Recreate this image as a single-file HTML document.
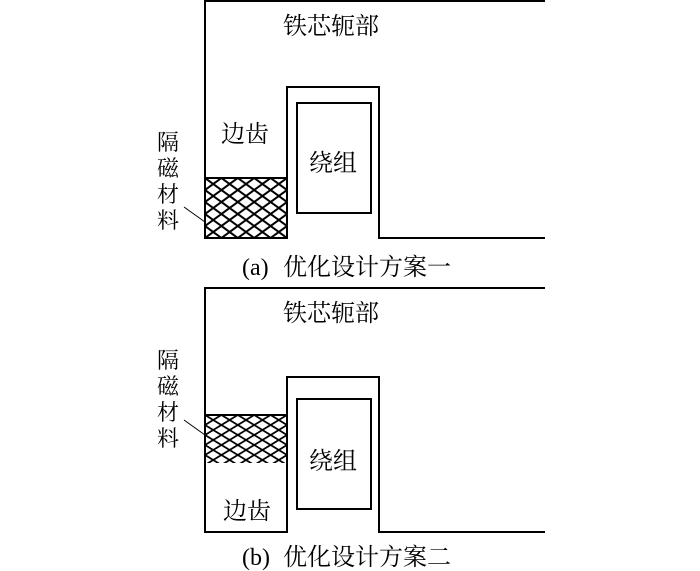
<!DOCTYPE html>
<html><head><meta charset="utf-8"><style>
html,body{margin:0;padding:0;background:#fff;}
svg{display:block;}
text{font-family:"Liberation Serif","Noto Serif CJK SC","Noto Sans CJK SC",serif;fill:#000;}
</style></head><body>
<svg width="700" height="571" viewBox="0 0 700 571" xmlns="http://www.w3.org/2000/svg">
<defs>
<pattern id="ha" x="205" y="178" width="16.4" height="12" patternUnits="userSpaceOnUse">
<path d="M0,0 L16.4,12 M0,12 L16.4,0" stroke="#000" stroke-width="2" fill="none"/>
</pattern>
<pattern id="hb" x="205" y="415" width="16.4" height="10" patternUnits="userSpaceOnUse">
<path d="M0,0 L16.4,10 M0,10 L16.4,0" stroke="#000" stroke-width="1.8" fill="none"/>
</pattern>
</defs>
<g stroke="#000" stroke-width="2" fill="none">
<rect x="205" y="178" width="82" height="60" fill="url(#ha)" stroke="none"/>
<path d="M545,1 L205,1 L205,238 L287,238 L287,87 L379,87 L379,238 L545,238"/>
<line x1="205" y1="178" x2="287" y2="178"/>
<rect x="297" y="103" width="74" height="110"/>
<line x1="184" y1="207" x2="205" y2="222" stroke-width="1"/>
<rect x="205" y="415" width="82" height="48" fill="url(#hb)" stroke="none"/>
<path d="M545,288 L205,288 L205,532 L287,532 L287,377 L379,377 L379,532 L545,532"/>
<line x1="205" y1="415" x2="287" y2="415"/>
<rect x="297" y="399" width="74" height="110"/>
<line x1="184" y1="420" x2="205" y2="435" stroke-width="1"/>
</g>
<g font-size="24">
<text x="283" y="34">铁芯轭部</text>
<text x="221" y="142">边齿</text>
<text x="309" y="171">绕组</text>
<text x="283" y="321">铁芯轭部</text>
<text x="223" y="519">边齿</text>
<text x="309" y="469">绕组</text>
</g>
<g font-size="24">
<text x="242" y="275">(a)</text>
<text x="283" y="275">优化设计方案一</text>
<text x="242" y="565">(b)</text>
<text x="283" y="565">优化设计方案二</text>
</g>
<g font-size="22">
<text x="157" y="150">隔</text>
<text x="157" y="176">磁</text>
<text x="157" y="202">材</text>
<text x="157" y="228">料</text>
<text x="157" y="368">隔</text>
<text x="157" y="394">磁</text>
<text x="157" y="420">材</text>
<text x="157" y="446">料</text>
</g>
</svg>
</body></html>
